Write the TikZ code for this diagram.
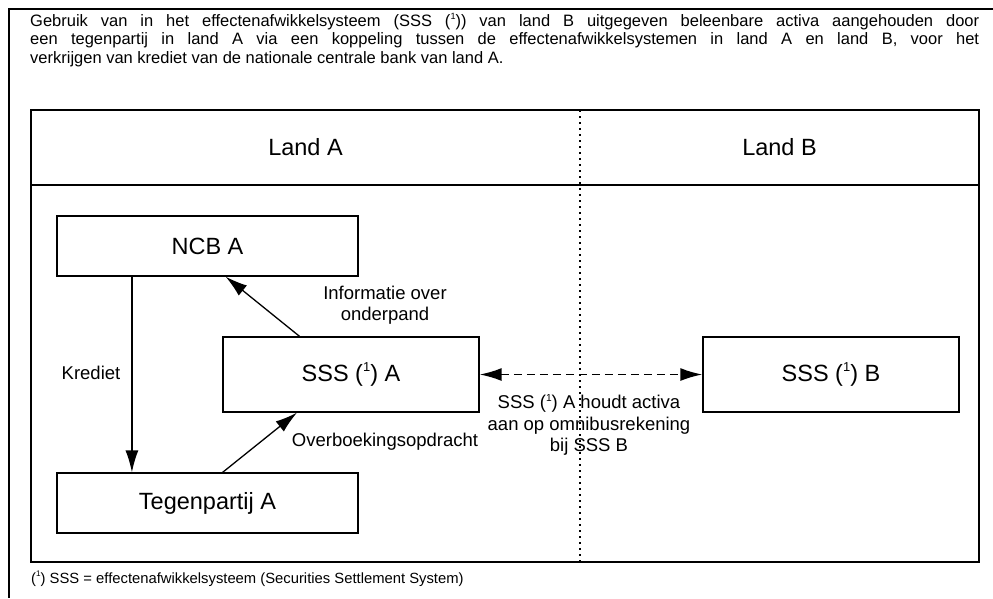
\documentclass[tikz,border=0pt]{standalone}
\usepackage{fontspec}
\setmainfont{Liberation Sans}
\usetikzlibrary{arrows.meta, positioning, calc}

\newcommand{\fnone}{\raisebox{0.42em}{\scalebox{0.55}{1}}}

\begin{document}
\begin{tikzpicture}[
    x=10pt, y=10pt,
    block/.style={rectangle, draw, line width=1.3pt, minimum height=60pt, minimum width=301pt, text centered, font=\fontsize{23.5}{28}\selectfont, inner sep=0pt},
    sssblock/.style={block, minimum height=75pt, minimum width=256pt},
    head/.style={font=\fontsize{23.5}{28}\selectfont, inner sep=0pt},
    lbl/.style={font=\fontsize{18.5}{21.5}\selectfont, align=center, inner sep=0pt},
    small/.style={font=\fontsize{16.5}{18.6}\selectfont, inner sep=0pt},
    frame/.style={line width=1.3pt},
    arrow/.style={-{Latex[length=22pt,width=13pt]}, line width=1.3pt},
    dblarrow/.style={{Latex[length=22pt,width=13pt]}-{Latex[length=22pt,width=13pt]}, line width=1.8pt, dash pattern=on 8pt off 5pt}
]
\useasboundingbox (0,0) rectangle (99.3,-59.8);

% Outer frame (open to the right and bottom)
\draw[frame] (99.3,-0.9) -- (0.9,-0.9) -- (0.9,-59.8);

% Title and footnote
\node[small, anchor=north west, text width=949pt, align=justify] (title) at (3.0,-1.3) {\noindent Gebruik van in het effectenafwikkelsysteem (SSS (\fnone)) van land B uitgegeven beleenbare activa aangehouden door\linebreak een tegenpartij in land A via een koppeling tussen de effectenafwikkelsystemen in land A en land B, voor het\linebreak verkrijgen van krediet van de nationale centrale bank van land A.};
\node[small, font=\fontsize{14.8}{17}\selectfont, anchor=base west] (note) at (3.1,-58.3) {(\fnone) SSS = effectenafwikkelsysteem (Securities Settlement System)};

% Inner frame with header row
\draw[frame] (3.1,-11) rectangle (97.9,-56.2);
\draw[line width=2.2pt] (3.1,-56.2) -- (97.9,-56.2) -- (97.9,-11);
\draw[frame] (3.1,-18.5) -- (97.9,-18.5);
\node[head] (landa) at (30.55,-14.75) {Land A};
\node[head] (landb) at (77.95,-14.75) {Land B};

% Blocks
\node[block] (ncb) at (20.75,-24.6) {NCB A};
\node[block] (tegen) at (20.75,-50.3) {Tegenpartij A};
\node[sssblock] (sssa) at (35.1,-37.45) {SSS (\fnone) A};
\node[sssblock] (sssb) at (83.1,-37.45) {SSS (\fnone) B};

% Arrow labels
\node[lbl] (krediet) at (9.1,-37.3) {Krediet};
\node[lbl] (info) at (38.5,-30.5) {Informatie over\\onderpand};
\node[lbl] (overb) at (38.5,-44.2) {Overboekingsopdracht};
\node[lbl] (omnibus) at (58.9,-42.5) {SSS (\fnone) A houdt activa\\aan op omnibusrekening\\bij SSS B};

% Country border (dotted)
\draw[line width=1.6pt, dash pattern=on 1.5pt off 4.5pt] (58,-11) -- (58,-56.2);

% Arrows
\draw[arrow] ($(ncb.south west)!0.25!(ncb.south east)$) coordinate (kt) -- (kt |- tegen.north);
\draw[arrow] ($(sssa.north west)!0.3!(sssa.north east)$) -- ($(ncb.south west)!0.56!(ncb.south east)$);
\draw[arrow] ($(tegen.north west)!0.55!(tegen.north east)$) -- ($(sssa.south west)!0.29!(sssa.south east)$);
\draw[dblarrow] (sssa.east) -- (sssb.west);

\end{tikzpicture}
\end{document}
